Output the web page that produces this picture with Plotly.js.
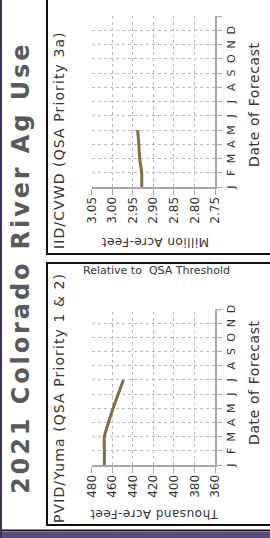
<!DOCTYPE html>
<html><head><meta charset="utf-8">
<script src="https://cdn.plot.ly/plotly-3.0.1.min.js"></script>
<style>
html,body{margin:0;padding:0;background:#fff;overflow:hidden;width:270px;height:538px;}
#wrap{position:absolute;left:0;top:0;width:538px;height:270px;transform-origin:0 0;transform:translate(0,538px) rotate(-90deg);}
#chart{width:538px;height:270px;}
</style></head><body>
<div id="wrap"><div id="chart"></div></div>
<script>
// ---- data ----
const months = ['J','F','M','A','M','J','J','A','S','O','N','D'];
const pvidMonths = [0,1,2,3,4,5,6];
const pvidValues = [467.5, 467.5, 467.5, 463.5, 459, 454, 449];
const iidMonths = [0,1,2,3,4];
const iidValues = [2.928, 2.928, 2.933, 2.935, 2.938];
const pvidTicks = [360,380,400,420,440,460,480];
const relTickVals = [-40,-20,0,20,40];
const relTickText = ['-40','-20','0','+20','+40'];
const iidTicks = [2.75,2.80,2.85,2.90,2.95,3.00,3.05];

// ---- geometry helpers (unrotated frame 538 x 270) ----
const W = 538, H = 270;
const px = v => v / W;
const py = v => 1 - v / H;

const FONT = 'DejaVu Sans, sans-serif';
const TXT = '#333333';
const GRID = '#b8b8b8';
const AXL = '#a6a6a6';
const LINE = '#7d7045';

const allIdx = months.map((m,i)=>i);
const sp = (t, s) => '<span style="letter-spacing:' + s + 'px">' + t + '</span>';

const axisCommon = {
  showgrid: true, griddash: 'dot', gridcolor: GRID, gridwidth: 1,
  showline: true, linecolor: AXL, linewidth: 1.5,
  ticks: 'outside', tickcolor: AXL, tickwidth: 1,
  zeroline: false, fixedrange: true,
  tickfont: {family: FONT, size: 11, color: TXT}
};

const layout = {
  width: W, height: H,
  margin: {l:0, r:0, t:0, b:0},
  paper_bgcolor: '#ffffff', plot_bgcolor: 'rgba(0,0,0,0)',
  showlegend: false,
  font: {family: FONT, color: TXT},
  xaxis: Object.assign({}, axisCommon, {
    domain: [px(73), px(229)], range: [0, 11], anchor: 'y',
    tickmode: 'array', tickvals: allIdx, ticktext: months, ticklen: 5
  }),
  yaxis: Object.assign({}, axisCommon, {
    domain: [py(215), py(91.5)], range: [360, 480], anchor: 'x',
    tickmode: 'array', tickvals: pvidTicks, ticklen: 6,
    tickfont: {family: FONT, size: 12, color: TXT}
  }),
  yaxis3: {
    overlaying: 'y', side: 'right', anchor: 'x', range: [-60, 60],
    tickmode: 'array', tickvals: relTickVals, ticktext: relTickText,
    ticks: 'outside', ticklen: 4, tickcolor: AXL,
    showgrid: false, showline: false, zeroline: false, fixedrange: true,
    tickfont: {family: FONT, size: 12, color: TXT}
  },
  xaxis2: Object.assign({}, axisCommon, {
    domain: [px(351), px(522)], range: [0, 12], anchor: 'y2',
    tickmode: 'array', tickvals: allIdx.concat([12]), ticktext: months.concat(['']), ticklen: 5
  }),
  yaxis2: Object.assign({}, axisCommon, {
    domain: [py(215), py(91.5)], range: [2.75, 3.05], anchor: 'x2',
    tickmode: 'array', tickvals: iidTicks, tickformat: '.2f', ticklen: 6,
    tickfont: {family: FONT, size: 12, color: TXT}
  }),
  shapes: [
    {type:'rect', xref:'paper', yref:'paper', x0:0, x1:px(6), y0:-0.05, y1:1.05, fillcolor:'#5a4a80', line:{width:0}, layer:'below'},
    {type:'line', xref:'paper', yref:'paper', x0:px(7.5), x1:px(7.5), y0:-0.05, y1:1.05, line:{color:'#111', width:2}},
    {type:'rect', xref:'paper', yref:'paper', x0:0, x1:1.05, y0:py(2), y1:1.05, fillcolor:'#3f2e5e', line:{width:0}},
    {type:'rect', xref:'paper', yref:'paper', x0:px(13), x1:px(275), y0:-0.05, y1:py(47), line:{color:'#111', width:2}, layer:'below'},
    {type:'rect', xref:'paper', yref:'paper', x0:px(284), x1:1.05, y0:-0.05, y1:py(47), line:{color:'#111', width:2}, layer:'below'}
  ],
  annotations: [
    {text:'<b>' + sp('2021 Colorado River Ag Use', 2.9) + '</b>', x:px(270), y:py(21), font:{size:24, color:'#595959', family:FONT}},
    {text:sp('PVID/Yuma (QSA Priority 1 & 2)', 1.1), x:px(140), y:py(59), font:{size:14, color:TXT, family:FONT}},
    {text:sp('IID/CVWD (QSA Priority 3a)', 1.1), x:px(398), y:py(59), font:{size:14, color:TXT, family:FONT}},
    {text:sp('Date of Forecast', 0.6), x:px(155), y:py(254), font:{size:14, color:TXT, family:FONT}},
    {text:sp('Date of Forecast', 0.6), x:px(433), y:py(254), font:{size:14, color:TXT, family:FONT}},
    {text:sp('Thousand Acre-Feet', 0.5), x:px(24), y:py(155), textangle:-90, font:{size:12, color:TXT, family:FONT}},
    {text:sp('Million Acre-Feet', 0.5), x:px(296), y:py(155), textangle:-90, font:{size:12, color:TXT, family:FONT}},
    {text:'Relative to  QSA Threshold', x:px(267), y:py(156), textangle:90, font:{size:11, color:TXT, family:FONT}}
  ].map(a => Object.assign({xref:'paper', yref:'paper', showarrow:false, xanchor:'center', yanchor:'middle'}, a))
};

const traces = [
  {x: pvidMonths, y: pvidValues, xaxis:'x', yaxis:'y', type:'scatter', mode:'lines',
   line:{color: LINE, width: 3, shape:'spline', smoothing:0.6}, hoverinfo:'skip'},
  {x: iidMonths, y: iidValues, xaxis:'x2', yaxis:'y2', type:'scatter', mode:'lines',
   line:{color: LINE, width: 3, shape:'spline', smoothing:0.6}, hoverinfo:'skip'}
];

Plotly.newPlot('chart', traces, layout, {staticPlot: true, displayModeBar: false});
</script>
</body></html>
